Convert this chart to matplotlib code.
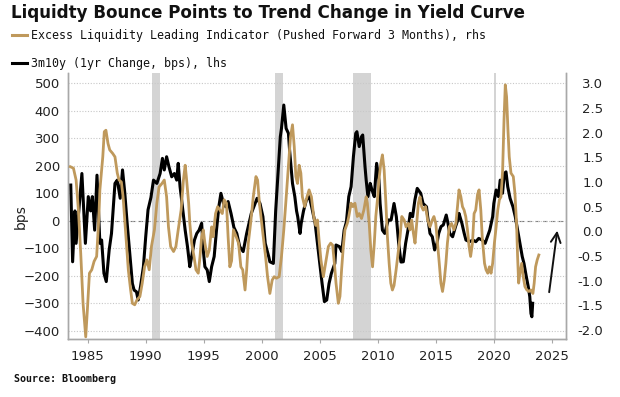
import matplotlib
matplotlib.use("Agg")
import matplotlib.pyplot as plt
from matplotlib.lines import Line2D

# 3m10y, 1yr change in bps (lhs)
curve_years = [1983.54, 1983.7, 1983.9, 1984.0, 1984.5, 1984.8, 1985.05, 1985.25, 1985.4, 1985.6,
               1985.8, 1986.05, 1986.2, 1986.4, 1986.6, 1986.85, 1987.05, 1987.35, 1987.55, 1987.8,
               1988.0, 1988.2, 1988.4, 1988.6, 1988.85, 1989.0, 1989.2, 1989.35, 1989.55, 1989.8,
               1990.0, 1990.2, 1990.45, 1990.67, 1990.96, 1991.24, 1991.44, 1991.6, 1991.8, 1992.0,
               1992.24, 1992.47, 1992.67, 1992.8, 1992.96, 1993.2, 1993.4, 1993.6, 1993.8, 1993.96,
               1994.2, 1994.4, 1994.6, 1994.82, 1994.96, 1995.1, 1995.3, 1995.48, 1995.68, 1995.9,
               1996.1, 1996.3, 1996.48, 1996.7, 1996.9, 1997.1, 1997.35, 1997.6, 1997.85, 1998.1,
               1998.4, 1998.7, 1999.1, 1999.6, 1999.85, 2000.1, 2000.3, 2000.6, 2000.7, 2001.0,
               2001.2, 2001.4, 2001.6, 2001.7, 2001.9, 2002.1, 2002.3, 2002.4, 2002.65, 2002.85,
               2003.0, 2003.1, 2003.3, 2003.4, 2003.6, 2003.85, 2004.1, 2004.3, 2004.6, 2004.8,
               2005.0, 2005.2, 2005.4, 2005.6, 2005.8, 2006.0, 2006.3, 2006.4, 2006.7, 2006.9,
               2007.1, 2007.3, 2007.5, 2007.7, 2007.9, 2008.1, 2008.2, 2008.4, 2008.6, 2008.7,
               2008.9, 2009.0, 2009.15, 2009.35, 2009.5, 2009.7, 2009.9, 2010.1, 2010.2, 2010.4,
               2010.6, 2010.9, 2011.15, 2011.4, 2011.6, 2011.8, 2012.0, 2012.2, 2012.4, 2012.6,
               2012.8, 2013.0, 2013.2, 2013.4, 2013.7, 2013.9, 2014.2, 2014.3, 2014.5, 2014.7,
               2014.9, 2015.1, 2015.25, 2015.45, 2015.65, 2015.9, 2016.05, 2016.2, 2016.45, 2016.7,
               2016.9, 2017.0, 2017.25, 2017.45, 2017.6, 2017.9, 2018.2, 2018.45, 2018.7, 2019.0,
               2019.25, 2019.45, 2019.65, 2019.9, 2020.0, 2020.2, 2020.4, 2020.55, 2020.75, 2020.9,
               2021.05, 2021.2, 2021.4, 2021.65, 2021.85, 2022.05, 2022.25, 2022.45, 2022.6, 2022.8,
               2022.97, 2023.1, 2023.2, 2023.28, 2023.35]
curve_bps = [130, -149, 36, -82, 172, -82, 88, 36, 88, -34,
             166, -82, -70, -191, -221, -106, -46, 136, 148, 82,
             185, 100, -9, -106, -228, -252, -258, -288, -240, -167,
             -58, 40, 85, 148, 136, 172, 227, 185, 233, 197,
             160, 172, 148, 209, 124, 36, -34, -94, -167, -130,
             -70, -46, -34, -9, -106, -167, -179, -221, -167, -130,
             -34, 51, 100, 63, 51, 70, 27, -24, -46, -94,
             -112, -46, 27, 82, 63, 15, -82, -130, -149, -155,
             36, 172, 306, 336, 421, 336, 318, 257, 136, 88,
             36, 15, -46, -9, 36, 76, 88, 51, -9, -82,
             -155, -228, -294, -288, -228, -191, -155, -88, -94, -112,
             -34, -3, 88, 124, 233, 318, 324, 270, 306, 312,
             197, 148, 88, 136, 112, 88, 209, 148, 63, -34,
             -46, 3, 3, 63, 15, -82, -150, -149, -82, -34,
             27, 15, 76, 118, 100, 63, 51, 15, -46, -58,
             -106, -82, -46, -21, -15, 21, -9, -46, -58, -21,
             3, 27, -9, -46, -70, -76, -70, -76, -64, -70,
             -82, -58, -34, 15, 63, 112, 88, 148, 100, 172,
             178, 124, 82, 51, 15, -34, -82, -130, -155, -203,
             -240, -276, -337, -349, -300]

# Excess liquidity leading indicator, pushed forward 3 months (rhs)
liq_years = [1983.5, 1983.77, 1984.0, 1984.2, 1984.4, 1984.6, 1984.83, 1984.97, 1985.15, 1985.35,
             1985.55, 1985.77, 1985.95, 1986.05, 1986.3, 1986.43, 1986.57, 1986.75, 1986.9, 1987.15,
             1987.35, 1987.55, 1987.7, 1987.9, 1988.05, 1988.3, 1988.5, 1988.7, 1988.85, 1989.05,
             1989.25, 1989.5, 1989.7, 1989.9, 1990.1, 1990.3, 1990.5, 1990.75, 1990.96, 1991.15,
             1991.4, 1991.6, 1991.8, 1991.96, 1992.15, 1992.4, 1992.6, 1992.8, 1993.05, 1993.25,
             1993.4, 1993.5, 1993.7, 1993.8, 1993.96, 1994.16, 1994.33, 1994.53, 1994.68, 1994.82,
             1994.96, 1995.1, 1995.3, 1995.48, 1995.68, 1995.8, 1996.02, 1996.2, 1996.4, 1996.6,
             1996.76, 1996.96, 1997.1, 1997.25, 1997.4, 1997.56, 1997.8, 1998.0, 1998.2, 1998.36,
             1998.56, 1998.7, 1998.84, 1999.04, 1999.27, 1999.5, 1999.64, 1999.8, 1999.93, 2000.13,
             2000.33, 2000.5, 2000.7, 2000.9, 2001.07, 2001.27, 2001.5, 2001.7, 2001.9, 2002.07,
             2002.27, 2002.48, 2002.65, 2002.8, 2002.94, 2003.08, 2003.22, 2003.37, 2003.5, 2003.7,
             2003.9, 2004.08, 2004.28, 2004.48, 2004.65, 2004.8, 2004.94, 2005.1, 2005.31, 2005.5,
             2005.74, 2005.94, 2006.11, 2006.26, 2006.4, 2006.6, 2006.74, 2006.88, 2007.03, 2007.17,
             2007.37, 2007.5, 2007.7, 2007.86, 2008.03, 2008.23, 2008.4, 2008.6, 2008.8, 2009.0,
             2009.1, 2009.26, 2009.4, 2009.55, 2009.7, 2009.83, 2009.97, 2010.1, 2010.26, 2010.4,
             2010.55, 2010.7, 2010.83, 2010.98, 2011.12, 2011.26, 2011.4, 2011.58, 2011.78, 2011.92,
             2012.07, 2012.27, 2012.44, 2012.64, 2012.78, 2012.92, 2013.07, 2013.21, 2013.35, 2013.5,
             2013.64, 2013.78, 2013.92, 2014.12, 2014.3, 2014.5, 2014.7, 2014.84, 2015.0, 2015.15,
             2015.3, 2015.44, 2015.58, 2015.73, 2015.87, 2016.0, 2016.16, 2016.36, 2016.56, 2016.73,
             2016.87, 2017.0, 2017.16, 2017.3, 2017.44, 2017.58, 2017.73, 2017.87, 2018.0, 2018.16,
             2018.3, 2018.44, 2018.6, 2018.73, 2018.88, 2019.0, 2019.2, 2019.33, 2019.48, 2019.62,
             2019.76, 2019.9, 2020.05, 2020.2, 2020.34, 2020.48, 2020.62, 2020.76, 2020.88, 2020.99,
             2021.1, 2021.22, 2021.33, 2021.48, 2021.68, 2021.82, 2021.96, 2022.05, 2022.14, 2022.25,
             2022.4, 2022.54, 2022.68, 2022.85, 2023.02, 2023.2, 2023.37, 2023.48, 2023.6, 2023.74,
             2023.88]
liq_rhs = [1.31, 1.28, 1.04, 0.43, -0.45, -1.46, -2.14, -1.6, -0.85, -0.78,
           -0.61, -0.51, 0.23, 0.84, 1.51, 2.02, 2.05, 1.78, 1.65, 1.58,
           1.51, 1.18, 1.04, 1.0, 0.7, -0.11, -0.78, -1.19, -1.46, -1.49,
           -1.39, -1.32, -1.05, -0.72, -0.58, -0.78, -0.3, 0.03, 0.57, 0.9,
           0.97, 1.04, 0.7, 0.09, -0.31, -0.41, -0.31, 0.03, 0.43, 1.04,
           1.34, 1.11, 0.57, 0.16, -0.24, -0.51, -0.78, -0.85, -0.51, -0.11,
           0.03, -0.24, -0.51, -0.38, 0.09, -0.11, 0.36, 0.5, 0.43, 0.36,
           0.64, 0.57, -0.11, -0.72, -0.6, 0.03, -0.11, -0.24, -0.72, -0.78,
           -1.19, -0.78, -0.24, 0.16, 0.7, 1.11, 1.04, 0.57, 0.3, -0.11,
           -0.51, -0.92, -1.26, -0.99, -0.92, -0.95, -0.92, -0.51, 0.03, 0.57,
           1.24, 1.92, 2.16, 1.72, 1.11, 0.97, 1.34, 1.18, 0.7, 0.5,
           0.7, 0.84, 0.7, 0.3, 0.12, 0.23, -0.18, -0.58, -0.92, -0.65,
           -0.31, -0.24, -0.28, -0.65, -1.05, -1.46, -1.32, -0.78, -0.31, 0.03,
           0.16, 0.3, 0.57, 0.5, 0.57, 0.3, 0.36, 0.26, 0.43, 0.7,
           0.57, 0.16, -0.38, -0.72, -0.24, 0.3, 0.64, 1.04, 1.38, 1.55,
           1.24, 0.57, -0.11, -0.65, -1.05, -1.19, -1.1, -0.78, -0.38, -0.11,
           0.3, 0.23, 0.09, 0.16, 0.03, 0.23, -0.04, -0.24, 0.16, 0.57,
           0.7, 0.5, 0.43, 0.5, 0.23, 0.09, 0.23, 0.3, 0.16, -0.24,
           -0.65, -1.05, -1.22, -0.99, -0.65, -0.24, 0.09, 0.16, 0.03, 0.16,
           0.5, 0.84, 0.7, 0.5, 0.43, 0.3, 0.03, -0.31, -0.51, -0.24,
           0.36, 0.43, 0.75, 0.84, 0.43, -0.11, -0.65, -0.78, -0.85, -0.72,
           -0.85, -0.65, -0.24, 0.09, 0.43, 0.64, 0.7, 1.24, 2.26, 2.97,
           2.73, 2.05, 1.51, 1.18, 1.11, 0.77, 0.16, -0.51, -1.05, -0.85,
           -0.65, -0.92, -1.12, -1.19, -1.22, -1.19, -1.26, -1.05, -0.72, -0.58,
           -0.48]

recessions = [(1990.58, 1991.22), (2001.18, 2001.85), (2007.88, 2009.4), (2020.0, 2020.17)]
year_ticks = [1985, 1990, 1995, 2000, 2005, 2010, 2015, 2020, 2025]
bps_ticks = [500, 400, 300, 200, 100, 0, -100, -200, -300, -400]
rhs_ticks = [3.0, 2.5, 2.0, 1.5, 1.0, 0.5, 0.0, -0.5, -1.0, -1.5, -2.0]

gold = "#BF995C"
grey = "#A8A8A8"

fig = plt.figure(figsize=(6.2, 3.97), dpi=100)
ax = fig.add_axes([0.1102, 0.1453, 0.8023, 0.6708])
ax2 = ax.twinx()

for start, end in recessions:
    ax.axvspan(start, end, color="#D4D4D4", lw=0, zorder=0)

ax.set_yticks(bps_ticks)
ax.grid(axis="y", color="#C8C8C8", linestyle=(0, (1, 1.5)), lw=0.8)
ax.axhline(0, color="#7A7A7A", linestyle=(0, (4, 3)), lw=0.8, zorder=1)
ax.plot(curve_years, curve_bps, color="black", lw=2.2, zorder=3)
ax2.plot(liq_years, liq_rhs, color=gold, lw=2.0, zorder=3)

ax.set_xlim(1983.33, 2026.2)
ax.set_ylim(-431, 537.5)
ax2.set_ylim(-2.19, 3.21)
ax.set_xticks(year_ticks)
ax2.set_yticks(rhs_ticks)
ax2.set_yticklabels([f"{v:.1f}" for v in rhs_ticks])

ax.tick_params(axis="x", length=3, color=grey, pad=4.5, labelsize=9.5, labelcolor="#222222")
ax.tick_params(axis="y", length=0, pad=6, labelsize=9.5, labelcolor="#222222")
ax2.tick_params(axis="y", length=0, pad=27, labelsize=9.5, labelcolor="#222222")
for lbl in ax2.get_yticklabels():
    lbl.set_horizontalalignment("right")

for a in (ax, ax2):
    a.spines["top"].set_visible(False)
    for s in ("left", "right", "bottom"):
        a.spines[s].set_color(grey)
        a.spines[s].set_linewidth(1.0)

ax.set_ylabel("bps", fontsize=10, color="#222222")
ax.yaxis.set_label_coords(-0.081, 0.46)

# arrow hinting at the expected turn
ax2.annotate("", xy=(2025.5, 0.07), xytext=(2024.74, -1.29),
             arrowprops=dict(arrowstyle="->,head_length=0.7,head_width=0.35", color="#111111", lw=1.4))

fig.text(0.017, 1 - 13 / 397, "Liquidty Bounce Points to Trend Change in Yield Curve",
         fontsize=12.1, fontweight="bold", va="center", ha="left", color="#111111")
fig.add_artist(Line2D([12 / 620, 27 / 620], [1 - 35 / 397] * 2, color=gold, lw=2.2))
fig.text(31 / 620, 1 - 35 / 397, "Excess Liquidity Leading Indicator (Pushed Forward 3 Months), rhs",
         family="DejaVu Sans Mono", fontsize=8.4, va="center", ha="left", color="#111111")
fig.add_artist(Line2D([12 / 620, 27 / 620], [1 - 63 / 397] * 2, color="black", lw=2.2))
fig.text(31 / 620, 1 - 63 / 397, "3m10y (1yr Change, bps), lhs",
         family="DejaVu Sans Mono", fontsize=8.4, va="center", ha="left", color="#111111")
fig.text(14 / 620, 1 - 379 / 397, "Source: Bloomberg", family="DejaVu Sans Mono",
         fontweight="bold", fontsize=7.2, va="center", ha="left", color="#111111")

fig.savefig("out.png", dpi=100)
